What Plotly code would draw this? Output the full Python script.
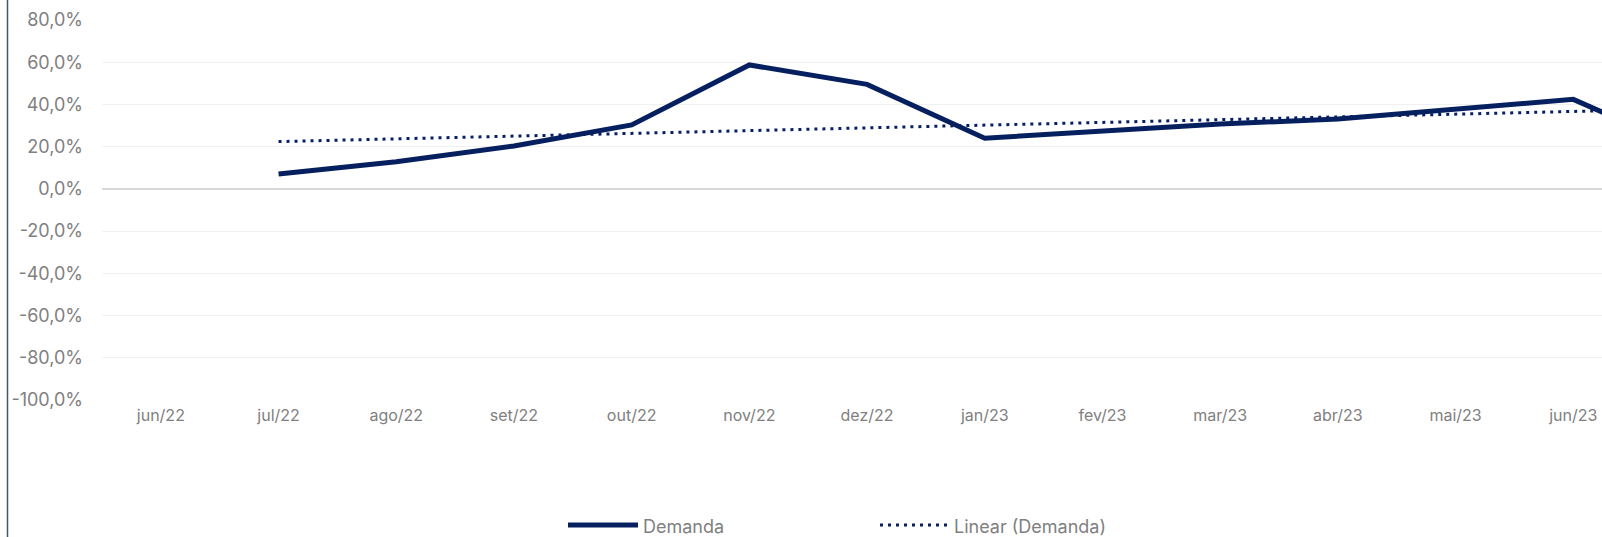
import plotly.graph_objects as go

# ---- data ----
months = ["jun/22", "jul/22", "ago/22", "set/22", "out/22", "nov/22", "dez/22",
          "jan/23", "fev/23", "mar/23", "abr/23", "mai/23", "jun/23", "jul/23"]
demanda = [None, 7.1, 12.9, 20.3, 30.3, 58.7, 49.5,
           24.0, 27.3, 30.7, 33.1, 37.8, 42.4, 18.0]
trend_months = ["jul/22", "jul/23"]
trend_values = [22.4, 38.0]
y_tickvals = [80, 60, 40, 20, 0, -20, -40, -60, -80, -100]
y_ticktext = ["80,0%", "60,0%", "40,0%", "20,0%", "0,0%", "-20,0%",
              "-40,0%", "-60,0%", "-80,0%", "-100,0%"]

# ---- layout constants ----
W, H = 1602, 537
ML, MR, MT, MB = 102, 0, 20, 137
PW, PH = W - ML - MR, H - MT - MB
NAVY = "#06205f"
GRAY = "#808080"
BAND = 117.7  # px per category
DOT = "3px,5px"


def px_x(px):
    return (px - ML) / PW


def px_y(py):
    return (H - MB - py) / PH


fig = go.Figure()
fig.add_trace(go.Scatter(
    x=months, y=demanda, mode="lines", name="Demanda",
    line=dict(color=NAVY, width=5), connectgaps=False, showlegend=False))
fig.add_trace(go.Scatter(
    x=trend_months, y=trend_values, mode="lines", name="Linear (Demanda)",
    line=dict(color=NAVY, width=3, dash=DOT), showlegend=False))

x_end = -0.5 + PW / BAND

shapes = [
    # left border line
    dict(type="line", xref="paper", yref="paper",
         x0=px_x(7.5), x1=px_x(7.5), y0=px_y(0), y1=px_y(H),
         line=dict(color="#44546A", width=1.5)),
    # legend symbols
    dict(type="line", xref="paper", yref="paper",
         x0=px_x(568), x1=px_x(638), y0=px_y(525), y1=px_y(525),
         line=dict(color=NAVY, width=5)),
    dict(type="line", xref="paper", yref="paper",
         x0=px_x(880), x1=px_x(950), y0=px_y(525), y1=px_y(525),
         line=dict(color=NAVY, width=3, dash=DOT)),
]
annotations = [
    dict(text="Demanda", xref="paper", yref="paper", x=px_x(641), y=px_y(526),
         xanchor="left", yanchor="middle", showarrow=False,
         font=dict(size=18, color=GRAY)),
    dict(text="Linear (Demanda)", xref="paper", yref="paper", x=px_x(952),
         y=px_y(526), xanchor="left", yanchor="middle", showarrow=False,
         font=dict(size=18, color=GRAY)),
]

fig.update_layout(
    width=W, height=H,
    margin=dict(l=ML, r=MR, t=MT, b=MB, pad=0),
    paper_bgcolor="white", plot_bgcolor="white",
    font=dict(family="Inter, Roboto, sans-serif", color=GRAY),
    showlegend=False,
    shapes=shapes, annotations=annotations,
    xaxis=dict(type="category", categoryorder="array", categoryarray=months,
               range=[-0.5, x_end], showgrid=False, showline=False,
               ticks="", tickfont=dict(size=16, color=GRAY),
               ticklabelstandoff=4),
    yaxis=dict(range=[-100, 80], tickvals=y_tickvals, ticktext=y_ticktext,
               showgrid=True, gridcolor="#f0f0f0", gridwidth=1,
               zeroline=True, zerolinecolor="#d9d9d9", zerolinewidth=2,
               showline=False, ticks="", tickfont=dict(size=18, color=GRAY),
               ticklabelstandoff=18),
)

fig.write_html("out.html", config={"displayModeBar": False},
               post_script="document.body.style.margin='0';")
